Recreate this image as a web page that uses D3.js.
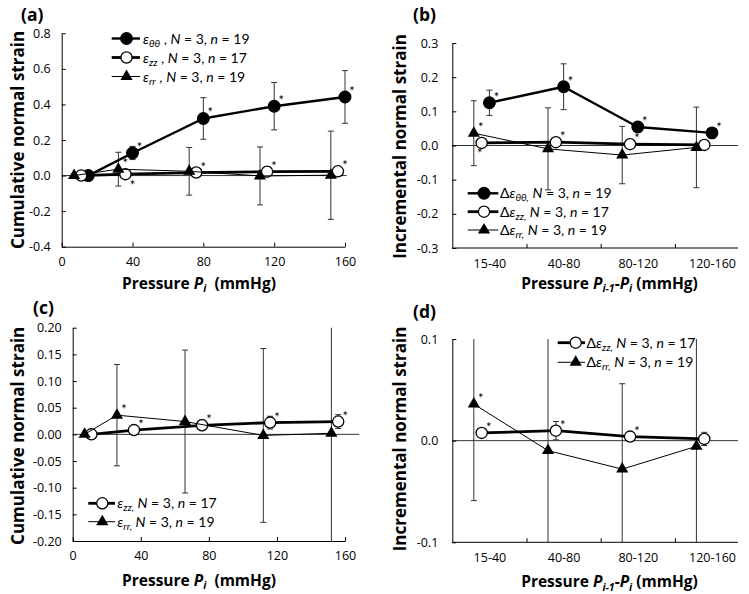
<!DOCTYPE html>
<html><head><meta charset="utf-8">
<script src="https://cdn.jsdelivr.net/npm/d3@7"></script>
<style>
body{margin:0;background:#fff}
svg{display:block}
text{font-family:Lato,"Open Sans",sans-serif;white-space:pre}
</style>
</head><body>
<svg id="chart" width="749" height="594"></svg>
<script>
// ---------------- DATA ----------------
const cumPressTT  = [15, 40, 80, 120, 160];
const cumPressZZ  = [11, 36, 76, 116, 156];
const cumPressRRa = [7, 32, 72, 112, 152];
const cumPressRRc = [7, 26, 66, 112, 152];
const cumTT    = [0, 0.127, 0.321, 0.390, 0.442];
const cumTTerr = [0, 0.037, 0.117, 0.133, 0.148];
const cumZZ    = [0, 0.008, 0.017, 0.022, 0.024];
const cumZZerr = [0, 0.003, 0.010, 0.012, 0.013];
const cumRR    = [0, 0.036, 0.024, -0.002, 0.002];
const cumRRerr = [0, 0.095, 0.134, 0.163, 0.248];

const incCats  = ["15-40", "40-80", "80-120", "120-160"];
const incTT    = [0.125, 0.172, 0.054, 0.037];
const incTTerr = [0.037, 0.067, 0, 0];
const incZZ    = [0.0076, 0.0098, 0.004, 0.0017];
const incZZerr = [0.002, 0.009, 0.003, 0.0065];
const incRR    = [0.036, -0.0098, -0.028, -0.0056];
const incRRerr = [0.095, 0.120, 0.084, 0.118];

const pressTicks = [0, 40, 80, 120, 160];
const ticksA = [-0.4, -0.2, 0, 0.2, 0.4, 0.6, 0.8];
const ticksB = [-0.3, -0.2, -0.1, 0, 0.1, 0.2, 0.3];
const ticksC = [-0.2, -0.15, -0.1, -0.05, 0, 0.05, 0.1, 0.15, 0.2];
const ticksD = [-0.1, 0, 0.1];

// significance asterisks (ur = upper right, br = below right, bl = below left)
const starsA = {tt: [null,"ur","ur","ur","ur"], zz: [null,"br","ur","ur","ur"], rr: [null,"ur",null,null,null]};
const starsB = {tt: ["ur","ur","ur","ur"], zz: ["bl","ur","ur",null], rr: ["ur",null,null,null]};
const starsC = {zz: [null,"ur","ur","ur","ur"], rr: [null,"ur",null,null,null]};
const starsD = {zz: ["ur","ur","ur",null], rr: ["ur",null,null,null]};

const legendN = {tt: 19, zz: 17, rr: 19};
const legendSub = {tt: "θθ", zz: "zz", rr: "rr"};

// ---------------- DRAWING ----------------
const svg = d3.select("#chart");
const fmtH = f => v => d3.format(f)(v).replace("−", "-");
const TICKFONT = "'Open Sans', sans-serif";
const TITLEFONT = "'Open Sans', sans-serif";

function marker(g, type, cx, cy) {
  if (type === "tri") {
    g.append("path").attr("d", d3.symbol(d3.symbolTriangle, 64)())
      .attr("transform", `translate(${cx},${cy})`).attr("fill", "#000");
  } else {
    g.append("circle").attr("cx", cx).attr("cy", cy).attr("r", type === "filled" ? 5.8 : 5.6)
      .attr("fill", type === "filled" ? "#000" : "#fff").attr("stroke", "#000").attr("stroke-width", 1.3);
  }
}
const lw = {filled: 2.4, open: 2.8, tri: 1};
const starOff = {ur: [7, -8], br: [7, 9], bl: [-2, 8]};

function legendLabel(t, delta, key, commaInSub) {
  if (delta) t.append("tspan").text("Δ");
  t.append("tspan").attr("font-style", "italic").text("ε");
  t.append("tspan").attr("font-style", "italic").attr("font-size", 10).attr("dy", 3).text(legendSub[key] + (commaInSub ? "," : ""));
  t.append("tspan").attr("dy", -3).text(commaInSub ? " " : " , ");
  t.append("tspan").attr("font-style", "italic").text("N");
  t.append("tspan").text(" = 3, ");
  t.append("tspan").attr("font-style", "italic").text("n");
  t.append("tspan").text(" = " + legendN[key]);
}

function drawPanel(cfg) {
  const g = svg.append("g");
  const x = cfg.x, y = cfg.y;
  const xL = x.range()[0];
  const yTop = y.range()[1], yBot = y.range()[0];
  const clipId = "clip" + cfg.key;
  svg.append("clipPath").attr("id", clipId).append("rect")
    .attr("x", xL).attr("y", yTop).attr("width", cfg.rightEnd - xL + 4).attr("height", yBot - yTop);

  // zero line
  g.append("line").attr("x1", xL).attr("x2", cfg.rightEnd).attr("y1", y(0)).attr("y2", y(0))
    .attr("stroke", "#333").attr("stroke-width", 1);

  // y axis
  const ya = g.append("g").attr("transform", `translate(${xL},0)`)
    .call(d3.axisLeft(y).tickValues(cfg.yTicks).tickFormat(fmtH(cfg.yFmt)).tickSize(-4).tickSizeOuter(0).tickPadding(cfg.yPad));
  // x axis
  const xa = g.append("g").attr("transform", `translate(0,${yBot})`);
  if (cfg.cat) {
    xa.call(d3.axisBottom(x).tickValues([1, 2, 3]).tickFormat("").tickSize(-4).tickSizeOuter(0));
    xa.select(".domain").remove();
    xa.append("line").attr("x1", xL).attr("x2", cfg.rightEnd).attr("stroke", "#000");
    const la = g.append("g").attr("transform", `translate(0,${yBot})`)
      .call(d3.axisBottom(x).tickValues([0.5, 1.5, 2.5, 3.5]).tickFormat((d, i) => incCats[i]).tickSize(0).tickPadding(11));
    la.select(".domain").remove();
    la.attr("font-family", null).attr("font-size", null);
  } else {
    xa.call(d3.axisBottom(x).tickValues(pressTicks).tickFormat(d3.format("d")).tickSize(-4).tickSizeOuter(0).tickPadding(10));
  }
  g.selectAll(".tick text").attr("font-size", 12.5).style("font-family", TICKFONT).attr("fill", "#000");
  g.selectAll(".domain, .tick line").attr("stroke", "#000");
  [ya, xa].forEach(a => a.attr("font-family", null).attr("font-size", null));

  // error bars
  const eb = g.append("g").attr("clip-path", `url(#${clipId})`);
  cfg.series.forEach(s => {
    s.xs.forEach((xv, i) => {
      const e = s.errs[i]; if (!e) return;
      const px = x(xv), y1 = y(s.ys[i] + e), y2 = y(s.ys[i] - e);
      eb.append("line").attr("x1", px).attr("x2", px).attr("y1", y1).attr("y2", y2)
        .attr("stroke", "#333").attr("stroke-width", 1);
      [y1, y2].forEach(yy => {
        if (yy >= yTop && yy <= yBot)
          eb.append("line").attr("x1", px - 3).attr("x2", px + 3).attr("y1", yy).attr("y2", yy)
            .attr("stroke", "#333").attr("stroke-width", 1);
      });
    });
  });

  // series lines + markers
  cfg.series.forEach(s => {
    const pts = s.xs.map((xv, i) => [x(xv), y(s.ys[i])]);
    g.append("path").attr("d", d3.line()(pts)).attr("fill", "none")
      .attr("stroke", "#000").attr("stroke-width", lw[s.type]).attr("stroke-linejoin", "round");
    pts.forEach(p => marker(g, s.type, p[0], p[1]));
  });
  // asterisks
  cfg.series.forEach(s => {
    s.xs.forEach((xv, i) => {
      const st = s.stars[i]; if (!st) return;
      const o = starOff[st];
      g.append("text").attr("x", x(xv) + o[0]).attr("y", y(s.ys[i]) + o[1] + 7)
        .attr("text-anchor", "middle").attr("font-size", 13).text("*");
    });
  });

  // legend
  cfg.legend.rows.forEach((r, k) => {
    const s = cfg.series.find(q => q.key === r);
    const ry = cfg.legend.ys[k];
    g.append("line").attr("x1", cfg.legend.lx1).attr("x2", cfg.legend.lx2).attr("y1", ry).attr("y2", ry)
      .attr("stroke", "#000").attr("stroke-width", lw[s.type]);
    marker(g, s.type, cfg.legend.mx, ry);
    const t = g.append("text").attr("x", cfg.legend.tx).attr("y", ry + 5).attr("font-size", 14);
    legendLabel(t, cfg.cat, r, cfg.legend.commaInSub);
  });

  // axis titles
  g.append("text").attr("transform", `translate(${cfg.yTitle[0]},${cfg.yTitle[1]}) rotate(-90)`)
    .attr("text-anchor", "middle").attr("font-weight", "bold").attr("font-size", 17).style("font-family", TITLEFONT)
    .text(cfg.cat ? "Incremental normal strain" : "Cumulative normal strain");
  const xt = g.append("text").attr("x", cfg.xTitle[0]).attr("y", cfg.xTitle[1]).attr("text-anchor", "middle")
    .attr("font-weight", "bold").attr("font-size", 15.5).style("font-family", TITLEFONT);
  xt.append("tspan").text("Pressure ");
  xt.append("tspan").attr("font-style", "italic").text("P");
  if (cfg.cat) {
    xt.append("tspan").attr("font-style", "italic").attr("font-size", 10.5).attr("dy", 3.5).text("i-1");
    xt.append("tspan").attr("dy", -3.5).text("-");
    xt.append("tspan").attr("font-style", "italic").text("P");
    xt.append("tspan").attr("font-style", "italic").attr("font-size", 10.5).attr("dy", 3.5).text("i");
    xt.append("tspan").attr("dy", -3.5).text(" (mmHg)");
  } else {
    xt.append("tspan").attr("font-style", "italic").attr("font-size", 10.5).attr("dy", 3.5).text("i");
    xt.append("tspan").attr("dy", -3.5).text("  (mmHg)");
  }
  // panel label
  g.append("text").attr("x", cfg.label[0]).attr("y", cfg.label[1]).attr("font-weight", "bold")
    .attr("font-size", 17.5).style("font-family", TITLEFONT).text(cfg.id);
}

const catX = d3.scaleLinear().domain([0, 4]).range([452.3, 749.1]);
const cx = (offset) => incCats.map((c, i) => i + 0.5 + offset);

drawPanel({
  id: "(a)", key: "a", cat: false,
  x: d3.scaleLinear().domain([0, 160]).range([61.7, 345]),
  y: d3.scaleLinear().domain([-0.4, 0.8]).range([246.7, 33.3]),
  yTicks: ticksA, yFmt: ".1f", yPad: 11, rightEnd: 346.7,
  series: [
    {key: "tt", type: "filled", xs: cumPressTT, ys: cumTT, errs: cumTTerr, stars: starsA.tt},
    {key: "zz", type: "open", xs: cumPressZZ, ys: cumZZ, errs: cumZZerr, stars: starsA.zz},
    {key: "rr", type: "tri", xs: cumPressRRa, ys: cumRR, errs: cumRRerr, stars: starsA.rr}
  ],
  legend: {rows: ["tt", "zz", "rr"], ys: [38.5, 57.5, 76.5], lx1: 111.7, lx2: 140, mx: 126.5, tx: 143, commaInSub: false},
  yTitle: [23.5, 140], xTitle: [199, 288.5], label: [21, 21]
});

drawPanel({
  id: "(b)", key: "b", cat: true,
  x: catX,
  y: d3.scaleLinear().domain([-0.3, 0.3]).range([248, 43]),
  yTicks: ticksB, yFmt: ".1f", yPad: 14, rightEnd: 738,
  series: [
    {key: "tt", type: "filled", xs: cx(0), ys: incTT, errs: incTTerr, stars: starsB.tt},
    {key: "zz", type: "open", xs: cx(-0.104), ys: incZZ, errs: incZZerr, stars: starsB.zz},
    {key: "rr", type: "tri", xs: cx(-0.21), ys: incRR, errs: incRRerr, stars: starsB.rr}
  ],
  legend: {rows: ["tt", "zz", "rr"], ys: [193.3, 211.7, 230], lx1: 467.7, lx2: 498.3, mx: 484, tx: 500, commaInSub: true},
  yTitle: [405.5, 146.5], xTitle: [609.5, 288.5], label: [413, 21]
});

drawPanel({
  id: "(c)", key: "c", cat: false,
  x: d3.scaleLinear().domain([0, 160]).range([72.7, 345]),
  y: d3.scaleLinear().domain([-0.2, 0.2]).range([541, 327.7]),
  yTicks: ticksC, yFmt: ".2f", yPad: 11, rightEnd: 359.3,
  series: [
    {key: "zz", type: "open", xs: cumPressZZ, ys: cumZZ, errs: cumZZerr, stars: starsC.zz},
    {key: "rr", type: "tri", xs: cumPressRRc, ys: cumRR, errs: cumRRerr, stars: starsC.rr}
  ],
  legend: {rows: ["zz", "rr"], ys: [503.3, 521.7], lx1: 88.3, lx2: 115, mx: 102.3, tx: 117.3, commaInSub: true},
  yTitle: [23.5, 435.8], xTitle: [199, 585.5], label: [33, 314]
});

drawPanel({
  id: "(d)", key: "d", cat: true,
  x: catX,
  y: d3.scaleLinear().domain([-0.1, 0.1]).range([542.3, 339]),
  yTicks: ticksD, yFmt: ".1f", yPad: 14, rightEnd: 738,
  series: [
    {key: "zz", type: "open", xs: cx(-0.104), ys: incZZ, errs: incZZerr, stars: starsD.zz},
    {key: "rr", type: "tri", xs: cx(-0.21), ys: incRR, errs: incRRerr, stars: starsD.rr}
  ],
  legend: {rows: ["zz", "rr"], ys: [342.7, 362.3], lx1: 557.7, lx2: 585, mx: 575.7, tx: 586.5, commaInSub: true},
  yTitle: [405.5, 439], xTitle: [609.5, 587], label: [413, 318]
});
</script>
</body></html>
